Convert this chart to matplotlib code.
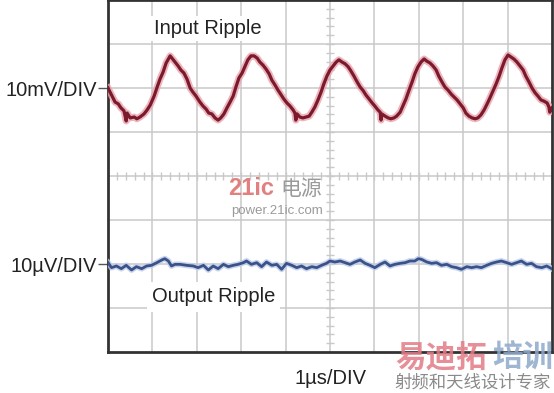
import matplotlib
matplotlib.use("Agg")
import matplotlib.pyplot as plt
import numpy as np

# ── Data (read off the scope shot) ────────────────────────────────────────────
# time in µs (1 µs per division), input ripple in mV, output ripple in µV
t_in = [0.00, 0.07, 0.16, 0.23, 0.29, 0.36, 0.41, 0.43, 0.50, 0.59, 0.65, 0.72,
        0.81, 0.88, 0.95, 1.04, 1.10, 1.17, 1.24, 1.31, 1.35, 1.40, 1.44, 1.51,
        1.58, 1.64, 1.71, 1.78, 1.85, 1.91, 1.98, 2.07, 2.14, 2.21, 2.27, 2.34,
        2.41, 2.48, 2.54, 2.61, 2.68, 2.75, 2.82, 2.88, 2.95, 3.02, 3.09, 3.15,
        3.22, 3.29, 3.36, 3.42, 3.49, 3.56, 3.63, 3.69, 3.76, 3.83, 3.90, 3.96,
        4.03, 4.10, 4.17, 4.21, 4.23, 4.26, 4.32, 4.39, 4.46, 4.53, 4.59, 4.66,
        4.73, 4.80, 4.86, 4.93, 5.00, 5.07, 5.14, 5.20, 5.27, 5.34, 5.41, 5.47,
        5.54, 5.61, 5.68, 5.74, 5.81, 5.88, 5.95, 6.01, 6.08, 6.13, 6.15, 6.17,
        6.24, 6.31, 6.37, 6.44, 6.50, 6.58, 6.64, 6.71, 6.78, 6.85, 6.91, 6.98,
        7.05, 7.12, 7.18, 7.25, 7.32, 7.39, 7.45, 7.52, 7.59, 7.66, 7.73, 7.79,
        7.86, 7.93, 8.00, 8.06, 8.13, 8.20, 8.27, 8.33, 8.40, 8.47, 8.54, 8.60,
        8.67, 8.74, 8.81, 8.87, 8.94, 9.01, 9.08, 9.14, 9.21, 9.28, 9.35, 9.41,
        9.48, 9.55, 9.62, 9.68, 9.75, 9.82, 9.89, 9.93, 9.95, 10.0]
v_in = [0.0, -1.4, -3.2, -3.6, -4.5, -5.2, -7.5, -5.7, -6.8, -6.6, -7.0, -6.6,
        -5.9, -5.0, -3.9, -1.8, 0.0, 2.0, 3.6, 5.7, 6.4, 7.3, 6.8, 5.9,
        5.0, 4.1, 3.4, 2.0, 0.0, -0.9, -1.8, -3.2, -4.1, -4.8, -5.7, -5.9,
        -6.8, -7.3, -6.8, -5.9, -4.5, -3.2, -1.8, 0.2, 2.3, 3.4, 5.0, 6.4,
        7.3, 7.3, 6.8, 5.9, 5.2, 4.3, 3.2, 1.8, 0.7, -0.5, -1.6, -2.5,
        -3.4, -4.1, -5.0, -5.7, -7.3, -5.9, -6.6, -6.8, -6.6, -6.4, -5.5, -4.3,
        -2.7, -0.9, 0.9, 2.7, 4.1, 5.0, 5.9, 6.4, 5.9, 5.5, 4.8, 3.9,
        2.7, 1.4, 0.2, -0.5, -1.6, -2.5, -3.4, -4.1, -5.0, -5.5, -7.3, -5.9,
        -6.4, -6.8, -7.0, -6.8, -6.4, -5.5, -4.1, -2.5, -0.5, 1.4, 3.2, 4.8,
        5.9, 6.6, 6.1, 5.7, 5.0, 4.1, 2.7, 1.4, 0.2, -0.5, -1.4, -2.0,
        -2.7, -3.6, -4.5, -5.7, -6.4, -6.8, -7.0, -6.8, -6.1, -5.0, -3.6, -2.3,
        -0.7, 0.9, 2.7, 4.5, 6.4, 7.5, 7.0, 6.6, 5.9, 5.0, 4.1, 2.7,
        1.4, 0.0, -1.1, -1.8, -2.7, -3.0, -3.4, -4.3, -5.5, -4.5]

t_out = [0.00, 0.08, 0.19, 0.30, 0.41, 0.53, 0.64, 0.76, 0.87, 0.98, 1.10, 1.21,
         1.28, 1.36, 1.43, 1.51, 1.62, 1.77, 1.92, 2.03, 2.15, 2.26, 2.37, 2.48,
         2.60, 2.71, 2.82, 2.93, 3.05, 3.12, 3.23, 3.35, 3.46, 3.57, 3.69, 3.80,
         3.91, 4.02, 4.14, 4.25, 4.36, 4.47, 4.59, 4.70, 4.81, 4.92,
         5.00, 5.11, 5.23, 5.34, 5.45, 5.56, 5.68, 5.79, 5.90, 6.01, 6.13, 6.24,
         6.35, 6.46, 6.58, 6.69, 6.80, 6.91, 6.99, 7.06, 7.18, 7.29, 7.40, 7.51,
         7.63, 7.74, 7.85, 7.96, 8.08, 8.19, 8.30, 8.41, 8.53, 8.64, 8.75, 8.86,
         8.98, 9.09, 9.20, 9.31, 9.43, 9.54, 9.65, 9.77, 9.88, 9.99]
v_out = [0.30, -0.83, -0.45, -1.06, -0.30, -1.36, -0.61, -1.06, -0.45, -0.30, 0.30, 0.91,
         1.21, 0.68, -0.45, -0.08, -0.08, -0.30, -0.45, -0.83, -0.30, -1.36, -0.45, -1.06,
         -0.08, -0.61, -0.30, -0.08, 0.30, 0.68, -0.08, 0.30, -0.61, 0.45, -0.30, -0.08,
         -1.21, 0.15, -0.30, -0.83, -0.45, -1.06, -0.61, -0.83, -0.30, 0.15,
         0.68, 0.45, 0.68, 0.30, -0.08, 0.45, 0.91, 0.15, -0.30, -0.83, -0.08, 0.45,
         -0.45, -0.08, 0.15, 0.30, 0.68, 0.68, 1.21, 1.06, 0.45, 0.15, 0.30, -0.30,
         -0.08, -0.61, -0.83, -1.21, -0.61, -0.83, -0.61, -0.83, -0.30, 0.15, 0.45, 0.68,
         0.30, -0.08, 0.30, 0.68, -0.08, 0.15, -0.61, -0.83, -0.45, -1.06]

IN_SCALE = 10.0    # mV per division
OUT_SCALE = 10.0   # µV per division
IN_POS = 6         # division where the input channel sits
OUT_POS = 2        # division where the output channel sits

# ── Style ─────────────────────────────────────────────────────────────────────
FONT = ["Liberation Sans", "DejaVu Sans"]
CJK = ["Noto Sans CJK SC", "DejaVu Sans"]
GRID = "#c9c9c9"
FRAME = "#333333"
RED = "#7b1a2c"
RED_HALO = "#e9a3ad"
BLUE = "#3b5289"
BLUE_HALO = "#bccbea"

fig = plt.figure(figsize=(5.54, 3.93), dpi=100, facecolor="white")
ax = fig.add_axes([108 / 554, 41 / 393, 444 / 554, 352 / 393])
ax.set_xlim(0, 10)
ax.set_ylim(0, 8)

# graticule
for x in range(1, 10):
    ax.axvline(x, color=GRID, lw=1.1, zorder=1)
for y in range(1, 8):
    ax.axhline(y, color=GRID, lw=1.1, zorder=1)
minor_x = np.arange(0, 10.01, 0.2)
minor_y = np.arange(0, 8.01, 0.2)
ax.plot(minor_x, np.full_like(minor_x, 4), ls="none", marker="|", ms=6,
        mew=1.0, color=GRID, zorder=1)
ax.plot(np.full_like(minor_y, 5), minor_y, ls="none", marker="_", ms=6,
        mew=1.0, color=GRID, zorder=1)

for sp in ax.spines.values():
    sp.set_color(FRAME)
    sp.set_linewidth(2.0)

# traces
y_in = IN_POS + np.array(v_in) / IN_SCALE
y_out = OUT_POS + np.array(v_out) / OUT_SCALE
ax.plot(t_in, y_in, color=RED_HALO, lw=5.0, alpha=0.8, solid_joinstyle="round", zorder=3)
ax.plot(t_in, y_in, color=RED, lw=2.3, solid_joinstyle="round", zorder=4)
ax.plot(t_out, y_out, color=BLUE_HALO, lw=4.2, alpha=0.8, solid_joinstyle="round", zorder=3)
ax.plot(t_out, y_out, color=BLUE, lw=2.0, solid_joinstyle="round", zorder=4)

# channel labels on the left
ax.set_xticks([])
ax.set_yticks([IN_POS, OUT_POS])
ax.set_yticklabels(["10mV/DIV", "10µV/DIV"], family=FONT, fontsize=14.5, color="#222222")
ax.tick_params(axis="y", length=7, width=1.0, color="#555555", pad=1)
ax.set_xlabel("1µs/DIV", family=FONT, fontsize=14.5, color="#222222", labelpad=12)

ax.text(2.25, 7.36, "Input Ripple", family=FONT, fontsize=14.5, color="#222222",
        ha="center", va="center", zorder=5,
        bbox=dict(boxstyle="square,pad=0.15", fc="white", ec="none"))
ax.text(2.37, 1.25, "Output Ripple", family=FONT, fontsize=14.5, color="#222222",
        ha="center", va="center", zorder=5,
        bbox=dict(boxstyle="square,pad=0.25", fc="white", ec="none"))

# watermarks
fig.text(251 / 554, 1 - 188 / 393, "21ic", family=FONT,
         fontsize=17, fontweight="bold", color="#e27f7f", ha="center", va="center")
fig.text(301 / 554, 1 - 189 / 393, "电源", family=CJK, fontsize=15,
         color="#9a9a9a", ha="center", va="center")
fig.text(277 / 554, 1 - 211 / 393, "power.21ic.com", family=FONT, fontsize=9.5,
         color="#9a9a9a", ha="center", va="center")
fig.text(395 / 554, 1 - 358 / 393, "易迪拓", family=CJK, fontsize=22, fontweight="bold",
         color="#e27c86", alpha=0.85, ha="left", va="center")
fig.text(553 / 554, 1 - 358 / 393, "培训", family=CJK, fontsize=22, fontweight="bold",
         color="#8ea9cc", alpha=0.85, ha="right", va="center")
fig.text(473 / 554, 1 - 383 / 393, "射频和天线设计专家", family=CJK, fontsize=12.5,
         color="#8a8a8a", ha="center", va="center")

fig.savefig("out.png", dpi=100, facecolor="white")
